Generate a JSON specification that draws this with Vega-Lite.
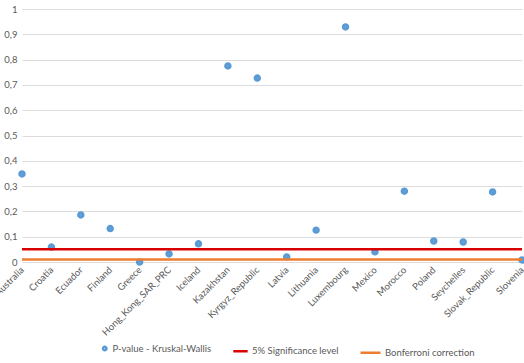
{
  "$schema": "https://vega.github.io/schema/vega-lite/v6.json",
  "autosize": "none",
  "width": 500,
  "height": 253,
  "padding": {"left": 22, "top": 9, "right": 2, "bottom": 101},
  "background": "white",
  "config": {
    "view": {"stroke": null},
    "font": "Lato",
    "axis": {"labelFont": "Lato", "labelColor": "#595959", "labelFontSize": 9.5},
    "legend": {"symbolStrokeWidth": 2.5, "labelColor": "#595959", "labelFontSize": 9.5, "labelFont": "Lato"}
  },
  "datasets": {
    "pvals": [
      {"country": "Australia", "p": 0.348, "series": "P-value - Kruskal-Wallis"},
      {"country": "Croatia", "p": 0.059, "series": "P-value - Kruskal-Wallis"},
      {"country": "Ecuador", "p": 0.186, "series": "P-value - Kruskal-Wallis"},
      {"country": "Finland", "p": 0.132, "series": "P-value - Kruskal-Wallis"},
      {"country": "Greece", "p": 0.0, "series": "P-value - Kruskal-Wallis"},
      {"country": "Hong_Kong_SAR_PRC", "p": 0.032, "series": "P-value - Kruskal-Wallis"},
      {"country": "Iceland", "p": 0.072, "series": "P-value - Kruskal-Wallis"},
      {"country": "Kazakhstan", "p": 0.775, "series": "P-value - Kruskal-Wallis"},
      {"country": "Kyrgyz_Republic", "p": 0.727, "series": "P-value - Kruskal-Wallis"},
      {"country": "Latvia", "p": 0.02, "series": "P-value - Kruskal-Wallis"},
      {"country": "Lithuania", "p": 0.126, "series": "P-value - Kruskal-Wallis"},
      {"country": "Luxembourg", "p": 0.929, "series": "P-value - Kruskal-Wallis"},
      {"country": "Mexico", "p": 0.04, "series": "P-value - Kruskal-Wallis"},
      {"country": "Morocco", "p": 0.28, "series": "P-value - Kruskal-Wallis"},
      {"country": "Poland", "p": 0.083, "series": "P-value - Kruskal-Wallis"},
      {"country": "Seychelles", "p": 0.079, "series": "P-value - Kruskal-Wallis"},
      {"country": "Slovak_Republic", "p": 0.277, "series": "P-value - Kruskal-Wallis"},
      {"country": "Slovenia", "p": 0.008, "series": "P-value - Kruskal-Wallis"}
    ],
    "levels": [
      {"series": "5% Significance level", "p": 0.05},
      {"series": "Bonferroni correction", "p": 0.01}
    ]
  },
  "layer": [
    {
      "data": {"name": "pvals"},
      "mark": {"type": "point", "filled": false, "opacity": 1, "strokeWidth": 4},
      "encoding": {
        "x": {
          "field": "country", "type": "nominal", "sort": null,
          "scale": {"type": "point", "padding": 0},
          "axis": {"title": null, "labelAngle": -45, "labelAlign": "right", "labelBaseline": "middle", "ticks": false, "domain": false, "labelPadding": 6}
        },
        "y": {
          "field": "p", "type": "quantitative",
          "scale": {"domain": [0, 1]},
          "axis": {"title": null, "values": [0,0.1,0.2,0.3,0.4,0.5,0.6,0.7,0.8,0.9,1], "labelOverlap": false, "labelExpr": "replace(format(datum.value, '.1~f'), '.', ',')", "ticks": false, "domain": false, "gridColor": "#DCDCDC", "labelPadding": 5}
        },
        "color": {
          "field": "series", "type": "nominal",
          "scale": {"domain": ["P-value - Kruskal-Wallis", "5% Significance level", "Bonferroni correction"], "range": ["#5B9BD5", "#D90000", "#ED7D31"]},
          "legend": {
            "title": null, "orient": "none", "direction": "horizontal",
            "legendX": 78, "legendY": 332,
            "columnPadding": 16, "labelOffset": 3
          }
        },
        "shape": {
          "field": "series", "type": "nominal",
          "scale": {"domain": ["P-value - Kruskal-Wallis", "5% Significance level", "Bonferroni correction"], "range": ["circle", "stroke", "stroke"]},
          "legend": {
            "title": null, "orient": "none", "direction": "horizontal",
            "legendX": 78, "legendY": 332,
            "columnPadding": 16, "labelOffset": 3
          }
        },
        "size": {
          "field": "series", "type": "nominal",
          "scale": {"domain": ["P-value - Kruskal-Wallis", "5% Significance level", "Bonferroni correction"], "range": [12, 400, 400]},
          "legend": {
            "title": null, "orient": "none", "direction": "horizontal",
            "legendX": 78, "legendY": 332,
            "columnPadding": 16, "labelOffset": 3
          }
        }
      }
    },
    {
      "data": {"name": "levels"},
      "mark": {"type": "rule", "strokeWidth": 2.5},
      "encoding": {
        "y": {
          "field": "p", "type": "quantitative",
          "axis": {"title": null, "values": [0,0.1,0.2,0.3,0.4,0.5,0.6,0.7,0.8,0.9,1], "labelOverlap": false, "labelExpr": "replace(format(datum.value, '.1~f'), '.', ',')", "ticks": false, "domain": false, "gridColor": "#DCDCDC", "labelPadding": 5}
        },
        "color": {"field": "series", "type": "nominal", "legend": null}
      }
    }
  ]
}
